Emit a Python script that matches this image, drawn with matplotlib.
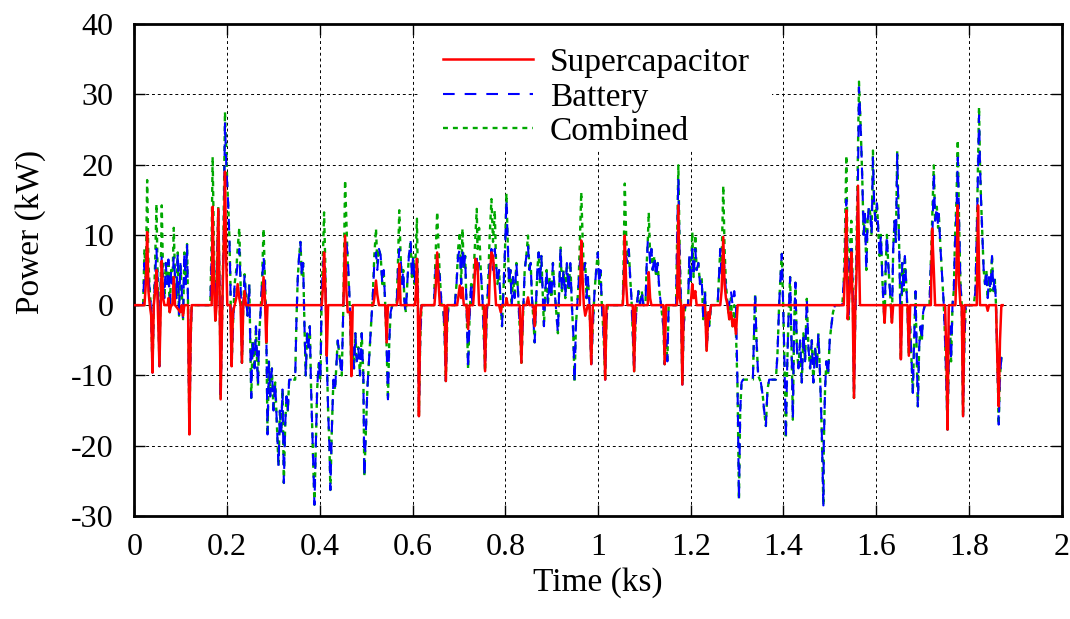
import matplotlib
matplotlib.use('Agg')
import matplotlib.pyplot as plt
from matplotlib.patches import Rectangle

plt.rcParams['font.family'] = ['Liberation Serif', 'DejaVu Serif']
plt.rcParams['axes.unicode_minus'] = False

# ---------------- data ----------------
time_ks = [
    # 0 - 0.124
    0, 0.0187, 0.0215, 0.0244, 0.0273, 0.0301, 0.033, 0.036, 0.0388, 0.0416,
    0.0445, 0.0474, 0.0502, 0.0538, 0.0567, 0.0588, 0.0617, 0.0646, 0.0675, 0.0703,
    0.0732, 0.076, 0.079, 0.0818, 0.0847, 0.0875, 0.0904, 0.0933, 0.0961, 0.099,
    0.1019, 0.1048, 0.1076, 0.1105, 0.1134, 0.1155, 0.1184, 0.1212, 0.1234,
    # 0.164 - 0.248
    0.1636, 0.1665, 0.1686, 0.1715, 0.1744, 0.1772, 0.1808, 0.1837, 0.1858, 0.1895,
    0.1923, 0.1952, 0.198, 0.2002, 0.2024, 0.2045, 0.2067, 0.2095, 0.2124, 0.216,
    0.2196, 0.2225, 0.2261, 0.2289, 0.2318, 0.2347, 0.2375, 0.2404, 0.244, 0.2476,
    # 0.25 - 0.50
    0.2519, 0.2547, 0.259, 0.262, 0.2663, 0.2691, 0.272, 0.2749, 0.2784, 0.2813,
    0.2842, 0.287, 0.29, 0.2928, 0.2964, 0.2999, 0.3036, 0.3072, 0.3107, 0.3136,
    0.3165, 0.3193, 0.3222, 0.3251, 0.3279, 0.3308, 0.3337, 0.3466, 0.3494, 0.3523,
    0.3552, 0.358, 0.361, 0.3638, 0.3667, 0.3695, 0.3724, 0.3753, 0.3782, 0.381,
    0.3846, 0.3882, 0.3911, 0.394, 0.3976, 0.4011, 0.404, 0.4069, 0.409, 0.4119,
    0.4148, 0.4177, 0.4205, 0.4226, 0.4256, 0.4291, 0.4327, 0.4385, 0.4435, 0.4471,
    0.4506, 0.4543, 0.4571, 0.46, 0.4629, 0.4657, 0.4679, 0.4708, 0.4736, 0.4765,
    0.4794, 0.4829, 0.4865, 0.4902, 0.4937, 0.4958,
    # 0.50 - 0.74
    0.5023, 0.5066, 0.5102, 0.5139, 0.5174, 0.521, 0.5238, 0.5274, 0.5311, 0.5346,
    0.5376, 0.541, 0.544, 0.5468, 0.5497, 0.5526, 0.5561, 0.5655, 0.5684, 0.5712,
    0.5741, 0.577, 0.5798, 0.5827, 0.5856, 0.5884, 0.592, 0.5957, 0.5985, 0.6013,
    0.6043, 0.6071, 0.6093, 0.6114, 0.6136, 0.6164, 0.6194, 0.6459, 0.6495, 0.653,
    0.656, 0.6588, 0.6624, 0.6659, 0.6689, 0.6717, 0.6745, 0.6775, 0.6911, 0.6947,
    0.6982, 0.7018, 0.7047, 0.7076, 0.7104, 0.7133, 0.7163, 0.7197, 0.7227, 0.7262,
    0.7292, 0.7326, 0.7356, 0.7384,
    # 0.74 - 0.99
    0.7399, 0.7434, 0.747, 0.7507, 0.7535, 0.7563, 0.7593, 0.7628, 0.7664, 0.7701,
    0.7735, 0.7772, 0.78, 0.783, 0.7865, 0.7901, 0.7929, 0.7959, 0.7994, 0.8024,
    0.8052, 0.808, 0.811, 0.8138, 0.8166, 0.8202, 0.8239, 0.8273, 0.831, 0.8347,
    0.8381, 0.8418, 0.8454, 0.8489, 0.8519, 0.8547, 0.8575, 0.8605, 0.8633, 0.8661,
    0.8691, 0.8719, 0.8747, 0.8777, 0.8805, 0.8833, 0.8863, 0.8891, 0.8919, 0.8956,
    0.8993, 0.9027, 0.9064, 0.91, 0.9135, 0.9165, 0.9193, 0.9221, 0.9257, 0.9294,
    0.9328, 0.9365, 0.9402, 0.9436, 0.9466, 0.9494, 0.9522, 0.9552, 0.958, 0.9608,
    0.9638, 0.9666, 0.9694, 0.9724, 0.9752, 0.978, 0.9817, 0.9854,
    # 0.99 - 1.24
    0.9888, 0.9925, 0.9961, 0.9996, 1.0026, 1.0054, 1.0082, 1.0118, 1.0155, 1.0183,
    1.0211, 1.0534, 1.0556, 1.0577, 1.0607, 1.0635, 1.0663, 1.0693, 1.0721, 1.0749,
    1.0779, 1.0807, 1.0835, 1.0872, 1.0908, 1.0943, 1.098, 1.1023, 1.1051, 1.1073,
    1.1094, 1.1124, 1.1152, 1.118, 1.1216, 1.1253, 1.1288, 1.1324, 1.136, 1.141,
    1.1438, 1.1468, 1.1496, 1.1524, 1.1684, 1.1705, 1.1733, 1.1761, 1.1791, 1.1819,
    1.1847, 1.1884, 1.1942, 1.197, 1.1998, 1.2034, 1.2062, 1.2099, 1.2127, 1.2164,
    1.22, 1.2235, 1.2271, 1.2308, 1.2343, 1.2379, 1.24, 1.2437,
    # 1.26 - 1.49
    1.258, 1.2609, 1.2637, 1.2666, 1.2702, 1.273, 1.276, 1.2795, 1.2831, 1.2868,
    1.2903, 1.2939, 1.2976, 1.3011, 1.304, 1.3068, 1.3096, 1.3126, 1.3341, 1.3369,
    1.339, 1.3419, 1.3455, 1.3513, 1.3556, 1.3584, 1.3621, 1.3656, 1.3692, 1.3836,
    1.3871, 1.3907, 1.3936, 1.3965, 1.3994, 1.4022, 1.4052, 1.408, 1.4108, 1.4144,
    1.4173, 1.4203, 1.423, 1.4259, 1.4289, 1.4324, 1.436, 1.4396, 1.4431, 1.4467,
    1.4504, 1.4539, 1.4575, 1.4612, 1.4646, 1.4683, 1.4719, 1.4754, 1.479, 1.4827,
    1.4862,
    # 1.49 - 1.73
    1.487, 1.4898, 1.4926, 1.4963, 1.4999, 1.5033, 1.507, 1.5113, 1.527, 1.53,
    1.5328, 1.5357, 1.5387, 1.5408, 1.5436, 1.5464, 1.5494, 1.5522, 1.555, 1.5579,
    1.5608, 1.563, 1.5651, 1.5673, 1.5701, 1.573, 1.5759, 1.5788, 1.5816, 1.5845,
    1.5873, 1.5902, 1.5931, 1.5959, 1.5988, 1.6017, 1.6045, 1.6075, 1.6103, 1.6132,
    1.616, 1.6182, 1.6204, 1.6232, 1.626, 1.629, 1.6318, 1.634, 1.6368, 1.6398,
    1.6426, 1.6455, 1.6485, 1.6513, 1.6534, 1.6562, 1.6592, 1.662, 1.6648, 1.6678,
    1.6706, 1.6734, 1.6764, 1.6792, 1.682, 1.685, 1.6878, 1.69, 1.6928, 1.6958,
    1.6986, 1.7014, 1.7051, 1.7151, 1.718, 1.7208, 1.7244, 1.7272, 1.7309, 1.7337,
    # 1.73 - 1.875
    1.7352, 1.7389, 1.7424, 1.746, 1.7488, 1.7518, 1.754, 1.7567, 1.7595, 1.7617,
    1.7647, 1.7675, 1.7703, 1.7733, 1.7761, 1.7789, 1.7819, 1.7847, 1.7875, 1.7905,
    1.7933, 1.8105, 1.8142, 1.817, 1.8198, 1.822, 1.8241, 1.8263, 1.8292, 1.832,
    1.8349, 1.8378, 1.8407, 1.8435, 1.8465, 1.85, 1.8529, 1.8558, 1.8586, 1.8616,
    1.8644, 1.8672, 1.8702, 1.873,
]

combined_kw = [
    0, 0, 8, 4, 17.8, 6, 2, -1, -9.6, 0,
    6, 14.4, 3, -8.7, 5, 14.2, 4, 1, 6, 3,
    6.5, -1, 5, 3, 11, 4, 1, 7.5, -1.5, 6,
    2, -2, 7.5, 3, 8.7, 0, -18.4, -5, 0,
    0, 10, 21.1, 8, -2.2, 4, 14, 2, -13.4, 0,
    12, 27.5, 22, 17, 14, 10, 4, -8.7, -3, 3,
    5, 8, 11, 3, -8.2, 0, 4.4, 1, -1.5, 3,
    -13.2, -5, -9, -3, -11.5, -4, -1, 3, 10.9, 4,
    -3, -18.4, -8, -13, -9, -15, -11, -17, -22.9, -15,
    -18, -12, -25.3, -17, -13, -15, -10.6, -10.6, -2, 4,
    7, 9, 4, 6, -3, -10, -4, -6, -3, -12,
    -20, -28.4, -20, -12, -8, -10.6, 2, 8, 13.2, 5,
    -7.2, -15, -20, -26.3, -18, -10.6, -12, -5, -8, -10,
    0, 17.8, 12, 6, 2, -3, -10, -6, -9, -4,
    -8, -6, -10, -4, -10, -24.4,
    -12, -7, -3, 1, 7, 10.9, 6, 8, 7, 3,
    5, 0, -6, -13.4, -5, -1, 0, 0, 6, 13.5,
    7, 3, 5, 0, -1, 3, 7, 9.2, 4, 7,
    3, 8, 12.3, 3, -15.8, -5, 0, 0, 7, 13.3,
    8, 4, 0, 0, -4, -10.8, -3, 0, 0, 3,
    8, 10.4, 3, 10.9, 5, 7, 0, -9.1, -2, 3,
    0, 6, 10, 13.7,
    8, 11, 5, 1, -4, -9.4, -3, 3, 10, 15.1,
    9, 13.5, 6, 3, 5, 0, -3, 2, 8, 15.9,
    9, 3, 5, 0, 4, 1, 6, 2, -3, -8.2,
    -2, 5, 7, 9.9, 5, 6, 1, -2, -5.3, 0,
    5, 7.5, 3, 7, 2, -3, 2, 5, 0, 4,
    1, 6, 2, -1, -4, 3, 8.2, 2, 5, 1,
    6, 2, 6, 0, -4, -11, -3, 0, 3, 9,
    16.1, 10, 5, 6, 1, 4, 0, -8.4,
    -3, 2, 5, 7.5, 3, 5, 0, -4, -10.6, -2,
    0, 0, 8, 17.3, 10, 6, 8, 4, 1, -4,
    -9.4, -3, 0, 2, 0, 2, 0, 0, 6, 9,
    13.2, 7, 8, 5, 7, 4, 6, 2, 0, -3,
    -8.4, -5, -8, 0, 0, 9, 19.9, 8, 0, -11.3,
    -3, 0, 0, 7, 3, 10.4, 4, 10, 5, 6,
    3, 4, -2, 2, -6.5, -2, -3, 0,
    0, 4, 8, 6, 17, 8, 3, 0, -2, 1,
    -3, 0, -4, -12, -27.7, -15, -11, -10.6, -10.6, -3,
    1.6, -5, -10, -11, -13, -15, -17.2, -12, -10.6, -10.6,
    -7, 0, 4, 7.3, 0, -8, -19, -9, -2, 4,
    -5, -16.3, -3, 3.2, -6, -9, -5, -11, -4, -8,
    0.9, -6, -9, -5, -11, -6, -9, -4, -10, -18,
    -28.5,
    -20, -12, -8, -10, -5, -3, -1, 0, 0, 3,
    10, 21.3, 5, -2, 8, 12, 3, -13.2, -2, 10,
    22, 31.8, 28, 24, 18, 10, 13, 5, 12, 14,
    13, 10, 22, 14, 12, 14.5, 11, 7, 10, 4,
    0, -2.5, 5, 10, 6, 3, 0, -2.5, 8, 12,
    9, 22, 12, 3, -7.7, 6, 2, 7, 3, -1,
    -7.2, -3, -8, -12.5, -5, 2, -8, -14.4, -6, -3,
    -5, -1, 0, 0, 6, 12, 19.9, 12, 14, 11,
    13, 8, 4, 0, -5, -12, -17.7, -8, -3, -8,
    0, 2, 10, 15, 23.5, 12, 3, 0, -15.8, -5,
    0, 0, 2, 10, 20, 28.2, 20, 15, 10, 5,
    3, 5, 1, 4, 2, 7, 2, 4, 0, -8,
    -17, -10, -7.5, -8,
]

battery_kw = [
    0, 0, 6, 3, 7.5, 4, 2, -1, -9.6, 0,
    4, 8, 3, -8.7, 4, 7, 3, 1, 6, 3,
    6.5, -1, 5, 3, 7, 4, 1, 7.5, -1.5, 6,
    2, -2, 7.5, 3, 8.7, 0, -18.4, -5, 0,
    0, 7, 10, 5, -2.2, 4, 13.7, 2, -13.4, 0,
    9, 26, 20, 17, 14, 10, 4, -8.7, -3, 3,
    4, 6, 8, 3, -8.2, 0, 4.4, 1, -1.5, 3,
    -13.2, -5, -9, -3, -11.5, -4, -1, 3, 7, 4,
    -3, -18.4, -8, -13, -9, -15, -11, -17, -22.9, -15,
    -18, -12, -25.3, -17, -13, -15, -10.6, -10.6, -2, 4,
    7, 9, 4, 6, -3, -10, -4, -6, -3, -12,
    -20, -28.4, -20, -12, -8, -10.6, 2, 6, 7, 4,
    -7.2, -15, -20, -26.3, -18, -10.6, -12, -5, -8, -10,
    0, 8, 9, 7, 3, -2, -10, -6, -9, -4,
    -8, -6, -10, -4, -10, -24.4,
    -12, -7, -3, 1, 6, 7.5, 5, 8, 7, 3,
    5, 0, -6, -13.4, -5, -1, 0, 0, 5, 8,
    7, 3, 5, 0, -1, 3, 7, 9.2, 4, 7,
    3, 6, 6, 3, -15.8, -5, 0, 0, 5, 6,
    5, 4, 0, 0, -4, -10.8, -3, 0, 0, 3,
    7, 8, 3, 8, 5, 7, 0, -9.1, -2, 3,
    0, 4, 5, 7,
    4, 6, 5, 1, -4, -9.4, -3, 3, 6, 8,
    5, 8, 6, 3, 5, 0, -3, 2, 8, 15,
    9, 3, 5, 0, 4, 1, 6, 2, -3, -8.2,
    -2, 5, 7, 8.5, 5, 6, 1, -2, -5.3, 0,
    5, 7.5, 3, 7, 2, -3, 2, 5, 0, 4,
    1, 6, 2, -1, -4, 3, 8.2, 2, 5, 1,
    6, 2, 6, 0, -4, -11, -3, 0, 3, 6,
    7, 6, 5, 6, 1, 4, 0, -8.4,
    -3, 2, 5, 7.5, 3, 5, 0, -4, -10.6, -2,
    0, 0, 5, 7.5, 7, 6, 8, 4, 1, -4,
    -9.4, -3, 0, 2, 0, 2, 0, 0, 6, 9,
    9, 6, 8, 5, 7, 4, 6, 2, 0, -3,
    -8.4, -5, -8, 0, 0, 9, 18, 7, 0, -11.3,
    -3, 0, 0, 7, 3, 8, 4, 8, 5, 6,
    3, 4, -2, 2, -6.5, -2, -3, 0,
    0, 4, 8, 4, 7.5, 5, 2, 0, 0, 2,
    0, 2, 0, -12, -27.7, -15, -11, -10.6, -10.6, -3,
    1.6, -5, -10, -11, -13, -15, -17.2, -12, -10.6, -10.6,
    -7, 0, 4, 7.3, 0, -8, -19, -9, -2, 4,
    -5, -16.3, -3, 3.2, -6, -9, -5, -11, -4, -8,
    0.9, -6, -9, -5, -11, -6, -9, -4, -10, -18,
    -28.5,
    -20, -12, -8, -10, -5, -3, -1, 0, 0, 3,
    6, 15, 5, -2, 6, 8, 3, -13.2, -2, 7,
    18, 31, 28, 24, 18, 10, 13, 5, 12, 14,
    13, 10, 21, 14, 12, 14.5, 11, 7, 10, 4,
    0, -2.5, 5, 10, 6, 3, 0, -2.5, 8, 12,
    9, 21.5, 12, 3, -7.7, 6, 2, 7, 3, -1,
    -7.2, -3, -8, -12.5, -5, 2, -8, -14.4, -6, -3,
    -5, -1, 0, 0, 6, 8, 19, 12, 14, 11,
    13, 8, 4, 0, -5, -12, -17.7, -8, -3, -8,
    0, 2, 9, 13, 21, 12, 3, 0, -15.8, -5,
    0, 0, 2, 10, 19, 27, 20, 15, 10, 5,
    3, 5, 1, 4, 2, 7, 2, 4, 0, -8,
    -17, -10, -7.5, -8,
]

sc_time_ks = [
    0, 0.0215, 0.0244, 0.0273, 0.0301, 0.033, 0.036, 0.0388, 0.0416, 0.0445,
    0.0474, 0.0502, 0.0538, 0.0567, 0.0588, 0.0617, 0.0646, 0.0715, 0.0732, 0.076,
    0.079, 0.0818, 0.0847, 0.0875, 0.099, 0.1019, 0.1048, 0.1076, 0.1155, 0.1184,
    0.1212, 0.1234, 0.1665, 0.1686, 0.1715, 0.1744, 0.1772, 0.1808, 0.1837, 0.1858,
    0.1895, 0.1923, 0.1952, 0.198, 0.2002, 0.2067, 0.2095, 0.2124, 0.216, 0.2196,
    0.2225, 0.2261, 0.2289, 0.2318, 0.2347, 0.2375, 0.2404, 0.2749, 0.2784, 0.2813,
    0.2842, 0.287, 0.404, 0.4069, 0.409, 0.4119, 0.4148, 0.4177, 0.4506, 0.4543,
    0.4571, 0.46, 0.4657, 0.4679, 0.4708, 0.515, 0.5174, 0.521, 0.5238, 0.5274,
    0.541, 0.544, 0.5468, 0.566, 0.5684, 0.5712, 0.5741, 0.605, 0.6071, 0.6093,
    0.6114, 0.6136, 0.6164, 0.6194, 0.647, 0.6495, 0.653, 0.656, 0.6588, 0.6689,
    0.6717, 0.6745, 0.696, 0.6982, 0.7018, 0.7047, 0.7076, 0.7104, 0.7163, 0.7197,
    0.7227, 0.7305, 0.7326, 0.7356, 0.7384, 0.7399, 0.7434, 0.7535, 0.7563, 0.7593,
    0.7645, 0.7664, 0.7701, 0.7735, 0.7772, 0.78, 0.7865, 0.7901, 0.7929, 0.8005,
    0.8024, 0.8052, 0.831, 0.8347, 0.8381, 0.8454, 0.8489, 0.8519, 0.8605, 0.8633,
    0.8661, 0.9608, 0.9638, 0.9666, 0.9694, 0.9724, 0.978, 0.9817, 0.9854, 0.9888,
    1.0118, 1.0155, 1.0183, 1.0534, 1.0556, 1.0577, 1.0607, 1.0635, 1.0749, 1.0779,
    1.0807, 1.1073, 1.1094, 1.1124, 1.1152, 1.141, 1.1438, 1.1468, 1.1705, 1.1733,
    1.1761, 1.1791, 1.1819, 1.1847, 1.1998, 1.2034, 1.2062, 1.2099, 1.2127, 1.2308,
    1.2343, 1.2379, 1.24, 1.2437, 1.2637, 1.2666, 1.2702, 1.273, 1.276, 1.2795,
    1.2831, 1.2868, 1.2903, 1.2939, 1.2976, 1.3011, 1.53, 1.5328, 1.5357, 1.5387,
    1.5408, 1.5436, 1.5464, 1.5494, 1.5522, 1.555, 1.5579, 1.5608, 1.563, 1.5651,
    1.616, 1.6182, 1.6204, 1.6318, 1.634, 1.6368, 1.6513, 1.6534, 1.6562, 1.6678,
    1.6706, 1.6734, 1.718, 1.7208, 1.7244, 1.7272, 1.7488, 1.7518, 1.754, 1.7567,
    1.771, 1.7733, 1.7761, 1.7789, 1.7819, 1.7847, 1.7875, 1.7905, 1.817, 1.8198,
    1.822, 1.8241, 1.8378, 1.8407, 1.8435, 1.8586, 1.8616, 1.8644, 1.8672, 1.8702,
    1.873,
]

supercap_kw = [
    0, 0, 3, 10.4, 2, 0, -1.5, -9.6, 0, 2,
    5, 0, -8.7, 0, 6.3, 1, 0, 0, 1, -1,
    0, 0, 4, 0, -1, 0, -1.5, 0, 0, -18.4,
    -4, 0, 0, 14, 3, -2.2, 0, 13.7, 1, -13.4,
    0, 8, 19, 6, 0, 0, -8.7, -1, 0, 1,
    3, 1, 0, -8.2, 0, 2, 0, 0, 4, 1,
    -5.3, 0, 0, 3, 7.5, 2, -7.2, 0, 0, 9.9,
    2, -1, -1, -10.1, 0, 0, 1, 3.5, 1.5, 0,
    0, -5.3, 0, 0, 1, 5.9, 0, 0, 2, 6.6,
    0, -15.8, -2, 0, 0, 2, 7.5, 3, 0, 0,
    -10.8, 0, 0, 1, 2.8, 1, 2.5, 0, 0, -3.4,
    0, 0, 2, 6.6, 6, 6, 0, 0, -9.4, 0,
    0, 4, 7.5, 7, 3, 0, 0, -1, 0, 0,
    1, 0, 0, -8.2, 0, 0, 1.1, 0, 0, -3,
    0, 0, 9.2, 4, 0, -1.5, 0, 0, -8.4, 0,
    0, -10.6, 0, 0, 3, 9.9, 3, 0, 0, -9.4,
    0, 0, 4.7, 1, 0, 0, -8.4, 0, 0, 14.2,
    1, 0, -11.3, 0, 0, 3, 1, 2, 0, 0,
    -6.5, -1, -2, 0, 0, 2, 9.7, 3, 1, 0,
    -2, -1, -3, -2, -4.1, 0, 0, 5, 13.5, -2,
    0, 3, 7.5, 0, -13.2, 0, 5, 17, 8, 0,
    0, -2.5, 0, 0, -2.5, 0, 0, -7.7, 0, 0,
    -7.2, 0, 0, 10.9, 5, 0, 0, -8, -17.7, 0,
    0, 5, 14.2, 3, 0, 0, -15.8, 0, 0, 14.2,
    5, 0, 0, -0.8, 0, 0, -8, -14.4, -5, 0,
    0,
]

x_ticks = [0, 0.2, 0.4, 0.6, 0.8, 1.0, 1.2, 1.4, 1.6, 1.8, 2.0]
x_tick_labels = ['0', '0.2', '0.4', '0.6', '0.8', '1', '1.2', '1.4', '1.6', '1.8', '2']
y_ticks = [-30, -20, -10, 0, 10, 20, 30, 40]
y_tick_labels = ['-30', '-20', '-10', '0', '10', '20', '30', '40']

if not (len(time_ks) == len(combined_kw) == len(battery_kw)):
    raise SystemExit(f"len mismatch {len(time_ks)} {len(combined_kw)} {len(battery_kw)}")
if len(sc_time_ks) != len(supercap_kw):
    raise SystemExit(f"sc len mismatch {len(sc_time_ks)} {len(supercap_kw)}")

# ---------------- figure ----------------
FS_TICK = 23
FS = 24
fig = plt.figure(figsize=(10.7, 6.19), dpi=100)
ax = fig.add_axes([0.1257, 0.1664, 0.8664, 0.7948])

ax.plot(time_ks, combined_kw, color='#00a800', lw=1.7, dashes=(2.1, 2.1),
        label='Combined', zorder=2)
ax.plot(time_ks, battery_kw, color='#0000ff', lw=1.5, dashes=(5.6, 4.8),
        label='Battery', zorder=3)
ax.plot(sc_time_ks, supercap_kw, color='#ff0000', lw=1.8,
        label='Supercapacitor', zorder=4)

ax.set_xlim(0, 2)
ax.set_ylim(-30, 40)
ax.set_xticks(x_ticks)
ax.set_xticklabels(x_tick_labels)
ax.set_yticks(y_ticks)
ax.set_yticklabels(y_tick_labels)
ax.tick_params(direction='in', length=8, width=1.0, labelsize=FS_TICK,
               top=True, right=True)
ax.tick_params(axis='x', pad=12)
ax.tick_params(axis='y', pad=15)
ax.set_axisbelow(True)
ax.grid(True, color='black', lw=0.7, linestyle=(0, (3, 3)))
for s in ax.spines.values():
    s.set_linewidth(2.0)

ax.set_xlabel('Time (ks)', fontsize=FS, labelpad=4)
ax.set_ylabel('Power (kW)', fontsize=FS)
ax.yaxis.set_label_coords(-0.0955, 0.577)

# white box behind the legend (hides grid lines there)
ax.add_patch(Rectangle((0.308, 0.744), 0.38, 0.256, transform=ax.transAxes,
                       facecolor='white', edgecolor='none', zorder=1))

handles, labels = ax.get_legend_handles_labels()
order = [2, 1, 0]
leg = ax.legend([handles[i] for i in order], [labels[i] for i in order],
                loc='upper left', bbox_to_anchor=(0.333, 0.952), frameon=False,
                fontsize=FS, handlelength=2.7, handletextpad=0.5,
                labelspacing=0.12, borderpad=0, borderaxespad=0)
leg.set_zorder(6)

fig.savefig('out.png', dpi=100)
